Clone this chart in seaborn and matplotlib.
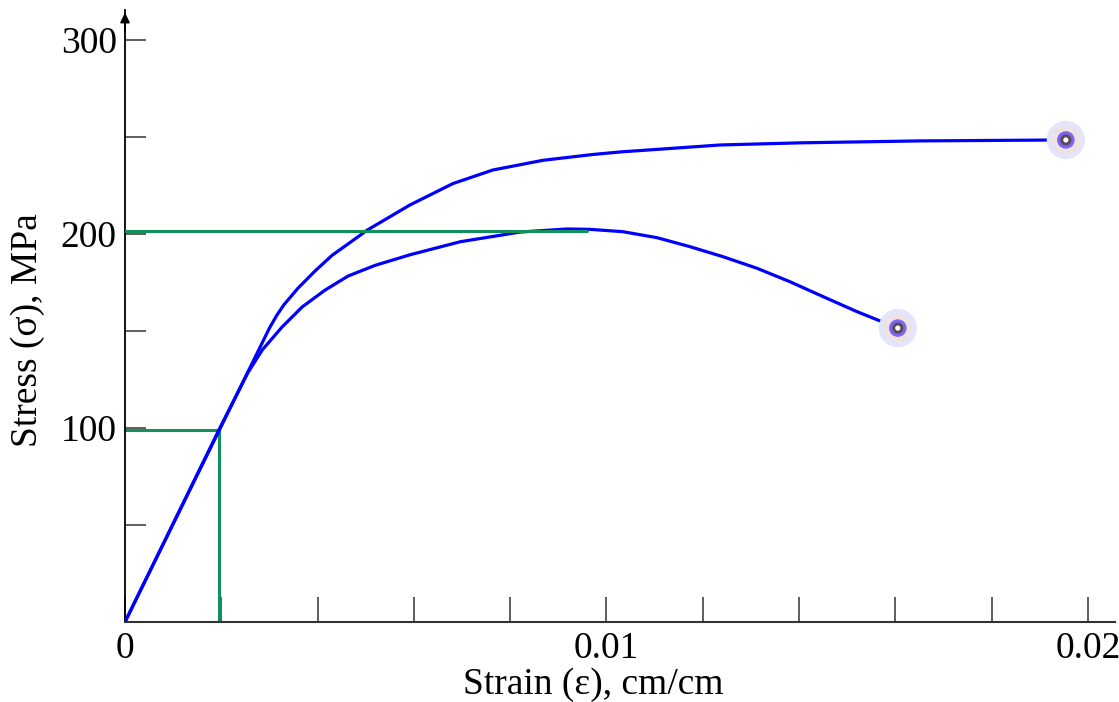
import numpy as np
import pandas as pd
import matplotlib
matplotlib.use("Agg")
import matplotlib.pyplot as plt
from matplotlib.ticker import MultipleLocator, FixedLocator, FixedFormatter
import seaborn as sns

# Curve A (upper): strain (cm/cm), stress (MPa)
strain_a = [0.0, 0.00300, 0.00315, 0.00330, 0.00359, 0.00395, 0.00430, 0.00478,
            0.00503, 0.00592, 0.00681, 0.00764, 0.00868, 0.00972, 0.01028,
            0.01236, 0.01402, 0.01651, 0.01954]
stress_a = [0.0, 151.5, 158.0, 163.5, 172.0, 181.0, 189.0, 197.5,
            202.0, 215.0, 226.0, 233.0, 238.0, 241.0, 242.3,
            245.9, 247.0, 248.0, 248.5]

# Curve B (lower, drops after the peak)
strain_b = [0.0, 0.00196, 0.00255, 0.00285, 0.00326, 0.00368, 0.00415, 0.00463,
            0.00519, 0.00592, 0.00696, 0.00820, 0.00918, 0.00966, 0.01034,
            0.01105, 0.01173, 0.01242, 0.01313, 0.01381, 0.01450, 0.01520,
            0.01605]
stress_b = [0.0, 99.5, 128.4, 140.2, 152.0, 162.4, 171.0, 178.3,
            183.8, 189.3, 196.0, 201.0, 202.6, 202.4, 201.2,
            198.1, 193.5, 188.3, 182.3, 175.4, 167.7, 160.0,
            151.5]

# Green guide lines
prop_strain = 0.00196
prop_stress = 99.0
uts_stress = 201.5
uts_strain_end = 0.0096

x_major = [0.0, 0.01, 0.02]
x_major_labels = ["0", "0.01", "0.02"]
y_major = [100, 200, 300]
y_major_labels = ["100", "200", "300"]

sns.set_style("white")
plt.rcParams["font.family"] = ["Liberation Serif", "DejaVu Serif"]
plt.rcParams["text.color"] = "black"
plt.rcParams["axes.labelcolor"] = "black"
plt.rcParams["xtick.color"] = "black"
plt.rcParams["ytick.color"] = "black"

df_a = pd.DataFrame({"strain": strain_a, "stress": stress_a})
df_b = pd.DataFrame({"strain": strain_b, "stress": stress_b})

fig = plt.figure(figsize=(11.19, 7.02), dpi=100)
ax = fig.add_axes([0.1117, 0.114, 0.8847, 0.8718])

blue = "#0000ff"
green = "#12905c"

for df in (df_a, df_b):
    sns.lineplot(data=df, x="strain", y="stress", ax=ax, color=blue, lw=2.3,
                 sort=False, estimator=None, zorder=3,
                 solid_joinstyle="round", solid_capstyle="round")

# guide lines
ax.plot([0, prop_strain], [prop_stress, prop_stress], color=green, lw=2.2, zorder=2)
ax.plot([prop_strain, prop_strain], [0, prop_stress], color=green, lw=2.2, zorder=2)
ax.plot([0, uts_strain_end], [uts_stress, uts_stress], color=green, lw=2.2, zorder=4)

# fracture point markers (layered glow)
ends_x = [strain_a[-1], strain_b[-1]]
ends_y = [stress_a[-1], stress_b[-1]]
layers = [(760, "#e4e4fb"), (400, "#eee2e2"), (160, "#7a66f2"), (64, "#5a4a55"), (14, "white")]
for s, c in layers:
    ax.scatter(ends_x, ends_y, s=s, color=c, edgecolors="none", zorder=5)

ax.set_xlim(0, 0.02056)
ax.set_ylim(0, 315.5)

ax.xaxis.set_major_locator(FixedLocator(x_major))
ax.xaxis.set_major_formatter(FixedFormatter(x_major_labels))
ax.xaxis.set_minor_locator(MultipleLocator(0.002))
ax.yaxis.set_major_locator(FixedLocator(y_major))
ax.yaxis.set_major_formatter(FixedFormatter(y_major_labels))
ax.yaxis.set_minor_locator(MultipleLocator(50))

ax.tick_params(axis="x", which="both", direction="in", length=18, width=1.1,
               color="#333333", labelcolor="black", labelsize=27, pad=7)
ax.tick_params(axis="y", which="both", direction="in", length=15, width=1.1,
               color="#333333", labelcolor="black", labelsize=27, pad=6)
ax.tick_params(which="both", top=False, right=False, bottom=True, left=True)

for side in ["top", "right"]:
    ax.spines[side].set_visible(False)
ax.spines["left"].set_color("black")
ax.spines["left"].set_linewidth(1.3)
ax.spines["bottom"].set_color("#333333")
ax.spines["bottom"].set_linewidth(1.5)

# arrow at the top of the stress axis
ax.annotate("", xy=(0, 1.0), xytext=(0, 0.96), xycoords="axes fraction",
            arrowprops=dict(arrowstyle="-|>", color="black", lw=1.3, mutation_scale=14))

ax.set_xlabel("Strain (ε), cm/cm", fontsize=27, color="black")
ax.set_ylabel("Stress (σ), MPa", fontsize=27, color="black")
ax.xaxis.set_label_coords(0.473, -0.075)
ax.yaxis.set_label_coords(-0.081, 0.477)

fig.savefig("out.png", dpi=100)
